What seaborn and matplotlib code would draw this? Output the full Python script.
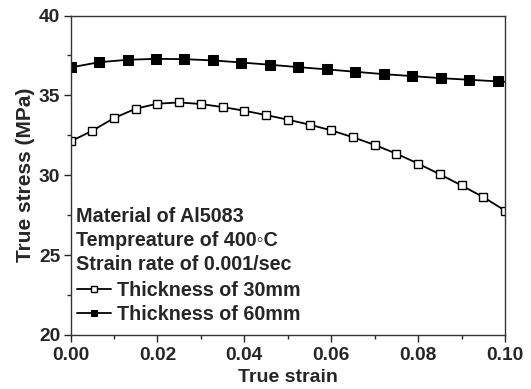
import matplotlib
matplotlib.use("Agg")
import matplotlib.pyplot as plt
from matplotlib.ticker import MultipleLocator, FormatStrFormatter
import seaborn as sns
import pandas as pd

# dados
strain_30 = [0.0, 0.005, 0.010, 0.015, 0.020, 0.025, 0.030, 0.035, 0.040, 0.045,
             0.050, 0.055, 0.060, 0.065, 0.070, 0.075, 0.080, 0.085, 0.090, 0.095, 0.100]
stress_30 = [32.12, 32.79, 33.58, 34.17, 34.48, 34.56, 34.46, 34.27, 34.04, 33.77,
             33.48, 33.17, 32.81, 32.38, 31.90, 31.35, 30.73, 30.06, 29.36, 28.63, 27.79]

strain_60 = [0.0, 0.0066, 0.0131, 0.0197, 0.0262, 0.0328, 0.0393, 0.0459, 0.0524,
             0.0590, 0.0655, 0.0721, 0.0786, 0.0852, 0.0917, 0.0983, 0.1049]
stress_60 = [36.75, 37.08, 37.23, 37.29, 37.27, 37.19, 37.06, 36.92, 36.77,
             36.63, 36.48, 36.33, 36.21, 36.08, 35.98, 35.88, 35.78]

info_lines = ["Material of Al5083", "Tempreature of 400\u25e6C", "Strain rate of 0.001/sec"]
labels = ["Thickness of 30mm", "Thickness of 60mm"]

sns.set_style("white")
plt.rcParams['font.family'] = ['Liberation Sans', 'DejaVu Sans']
plt.rcParams['font.weight'] = 'bold'
plt.rcParams['axes.labelweight'] = 'bold'

df30 = pd.DataFrame({"strain": strain_30, "stress": stress_30})
df60 = pd.DataFrame({"strain": strain_60, "stress": stress_60})

fig = plt.figure(figsize=(5.31, 3.89), dpi=100)
ax = fig.add_axes([0.133, 0.139, 0.818, 0.821])

sns.lineplot(data=df30, x="strain", y="stress", ax=ax, color="black", lw=1.3,
             marker="s", markersize=6, markerfacecolor="white", markeredgecolor="black",
             markeredgewidth=1.0, sort=False, estimator=None, label=labels[0])
sns.lineplot(data=df60, x="strain", y="stress", ax=ax, color="black", lw=1.3,
             marker="s", markersize=6.5, markerfacecolor="black", markeredgecolor="black",
             sort=False, estimator=None, label=labels[1])

ax.set_xlim(0, 0.1)
ax.set_ylim(20, 40)
ax.xaxis.set_major_locator(MultipleLocator(0.02))
ax.xaxis.set_minor_locator(MultipleLocator(0.01))
ax.yaxis.set_major_locator(MultipleLocator(5))
ax.yaxis.set_minor_locator(MultipleLocator(2.5))
ax.xaxis.set_major_formatter(FormatStrFormatter('%.2f'))
ax.tick_params(which='major', direction='out', length=5, width=1, labelsize=13.8,
               bottom=True, left=True, pad=2.5)
ax.tick_params(axis='x', which='major', pad=4)
ax.tick_params(which='minor', direction='out', length=3, width=1, bottom=True, left=True)
plt.setp(ax.get_xticklabels() + ax.get_yticklabels(), fontweight='bold')
for s in ax.spines.values():
    s.set_color("#333333")
    s.set_linewidth(1.0)

ax.set_xlabel("True strain", fontsize=14, fontweight='bold', labelpad=3)
ax.set_ylabel("True stress (MPa)", fontsize=15, fontweight='bold', labelpad=3)

for i, t in enumerate(info_lines):
    ax.text(0.013, 0.372 - i * 0.075, t, transform=ax.transAxes, fontsize=14.2,
            fontweight='bold', va='center', ha='left')

leg = ax.legend(loc="upper left", bbox_to_anchor=(0.014, 0.168), frameon=False,
                prop={'size': 14.2, 'weight': 'bold'}, handlelength=1.75,
                handletextpad=0.3, labelspacing=0.25, markerscale=0.7,
                borderaxespad=0, borderpad=0)
for ln in leg.get_lines():
    ln.set_linewidth(1.3)

plt.savefig("out.png", dpi=100)
